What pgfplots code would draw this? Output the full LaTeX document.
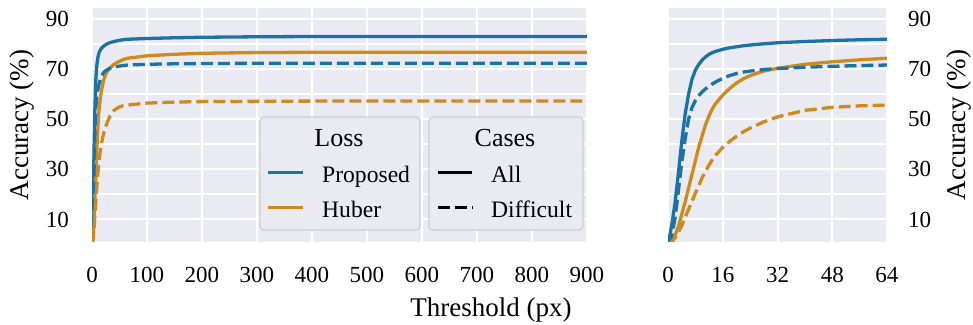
\documentclass[border=0pt]{standalone}
\usepackage{fontspec}
\setmainfont{Liberation Serif}
\usepackage{pgfplots}
\pgfplotsset{compat=1.18}
\usepackage{pgfplotstable}

\definecolor{sbblue}{RGB}{27,114,168}
\definecolor{sborange}{RGB}{207,138,28}
\definecolor{sbbg}{RGB}{234,234,242}
\definecolor{legedge}{RGB}{206,206,210}

% accuracy (%) against pixel threshold
\pgfplotstableread{
x    pa    pd    ha    hd
0    0     0     0     0
1    7     3     1.2   0.8
2    16    10    3.5   2.5
3    28    21    7     4.8
4    41    32.5  12    7.5
5    52    42    17    10.8
6    60    50    22.5  14
7    66    54.7  28    17.3
8    69.7  57.5  33.5  20.5
9    72    59.5  39    23.5
10   73.7  61    43.5  26.8
11   75    62.2  48    29.3
12   76    63.3  51.5  31.8
13   76.7  64.2  54.3  33.9
14   77.2  65    56.5  35.8
16   78    66.4  59.7  38.8
18   78.6  67.5  62.3  41.2
20   79    68.3  64.5  43.2
22   79.4  68.9  66.2  45
24   79.7  69.3  67.5  46.5
28   80.2  69.9  69.3  49
32   80.6  70.3  70.4  51
40   81.1  70.8  72    53.6
48   81.5  71.2  73    54.8
56   81.8  71.5  73.8  55.4
64   82    71.7  74.4  55.7
100  82.3  72.0  75.4  56.5
150  82.6  72.2  76    56.9
200  82.8  72.3  76.4  57.1
300  83    72.4  76.7  57.2
400  83.1  72.4  76.8  57.3
500  83.1  72.4  76.8  57.3
700  83.1  72.4  76.8  57.3
900  83.1  72.4  76.8  57.3
}\acc

\pgfplotsset{
  panel/.style={
    scale only axis,
    height=117pt,
    ymin=1, ymax=94.5,
    ytick={10,30,50,70,90},
    minor ytick={20,40,60,80},
    grid=both,
    grid style={white, line width=1pt},
    minor grid style={white, line width=1pt},
    major tick length=0pt, minor tick length=0pt,
    axis line style={draw=none},
    axis background/.style={fill=sbbg},
    /pgf/number format/assume math mode=true,
    tick label style={font=\fontsize{11.5}{13}\selectfont},
    xticklabel style={yshift=-9pt},
    label style={font=\fontsize{13.5}{16}\selectfont},
    ylabel={Accuracy (\%)},
    clip=true,
  },
  curve/.style={line width=1.65pt, line join=round},
  dashedcurve/.style={line width=1.65pt, line cap=butt, dash pattern=on 6pt off 2.5pt},
}

\begin{document}
\begin{tikzpicture}
\path[use as bounding box] (-46pt,-41.5pt) rectangle (440.5pt,121pt);

% full threshold range
\begin{axis}[panel,
  width=247.5pt,
  xmin=0, xmax=900,
  xtick={0,100,...,900},
  yticklabel style={xshift=-8pt},
  ylabel style={at={(axis description cs:-0.1414,0.5)}, anchor=center},
]
\addplot[curve, sbblue] table[x=x, y=pa] {\acc};
\addplot[curve, sborange] table[x=x, y=ha] {\acc};
\addplot[dashedcurve, sbblue] table[x=x, y=pd] {\acc};
\addplot[dashedcurve, sborange] table[x=x, y=hd] {\acc};
\end{axis}

% close-up of small thresholds
\begin{axis}[panel,
  at={(288pt,0pt)}, anchor=south west,
  width=109.5pt,
  xmin=0, xmax=64,
  xtick={0,16,32,48,64},
  yticklabel pos=right,
  yticklabel style={xshift=7pt},
  ylabel style={at={(axis description cs:1.3288,0.5)}, anchor=center},
]
\addplot[curve, sbblue] table[x=x, y=pa] {\acc};
\addplot[curve, sborange] table[x=x, y=ha] {\acc};
\addplot[dashedcurve, sbblue] table[x=x, y=pd] {\acc};
\addplot[dashedcurve, sborange] table[x=x, y=hd] {\acc};
\end{axis}

\node[font=\fontsize{13.5}{16}\selectfont, anchor=base] at (199.5pt,-37.5pt) {Threshold (px)};

% legend: Loss
\draw[legedge, line width=0.6pt, fill=sbbg, rounded corners=2pt] (84pt,6pt) rectangle (164pt,62.5pt);
\node[font=\fontsize{13}{15}\selectfont, anchor=base] at (123.5pt,47.6pt) {Loss};
\draw[sbblue, line width=1.65pt] (88pt,34.7pt) -- (105.5pt,34.7pt);
\draw[sborange, line width=1.65pt] (88pt,17.2pt) -- (105.5pt,17.2pt);
\node[font=\fontsize{11.8}{14}\selectfont, anchor=base west, inner sep=0pt] at (114.9pt,29.7pt) {Proposed};
\node[font=\fontsize{11.8}{14}\selectfont, anchor=base west, inner sep=0pt] at (114.9pt,12.3pt) {Huber};

% legend: Cases
\draw[legedge, line width=0.6pt, fill=sbbg, rounded corners=2pt] (168.5pt,6pt) rectangle (245.5pt,62.5pt);
\node[font=\fontsize{13}{15}\selectfont, anchor=base] at (206.5pt,47.6pt) {Cases};
\draw[black, line width=1.65pt] (172.9pt,34.7pt) -- (190.2pt,34.7pt);
\draw[black, line width=1.65pt, line cap=butt, dash pattern=on 6pt off 2.5pt] (172.9pt,17.2pt) -- (190.2pt,17.2pt);
\node[font=\fontsize{11.8}{14}\selectfont, anchor=base west, inner sep=0pt] at (199.4pt,29.7pt) {All};
\node[font=\fontsize{11.8}{14}\selectfont, anchor=base west, inner sep=0pt] at (199.4pt,12.3pt) {Difficult};
\end{tikzpicture}
\end{document}
